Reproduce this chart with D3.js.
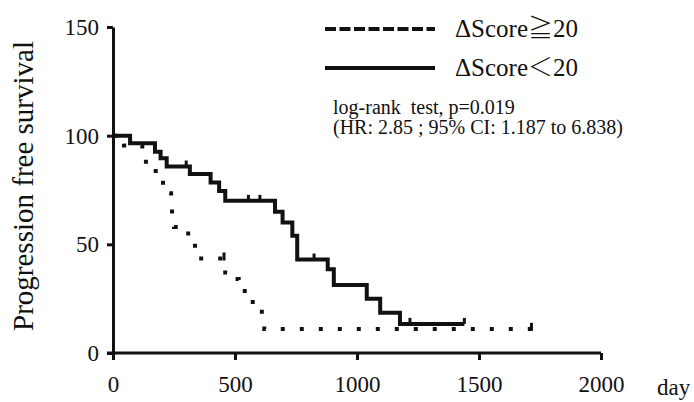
<!DOCTYPE html>
<html>
<head>
<meta charset="utf-8">
<script src="https://cdn.jsdelivr.net/npm/d3@7"></script>
<style>
  body { margin: 0; background: #fff; }
</style>
</head>
<body>
<div id="chart"></div>
<script>
// Kaplan-Meier steps (day, % progression free)
const highTimes = [0, 45, 120, 135, 175, 205, 215, 238, 242, 250, 290, 322, 336, 340, 460, 500, 515, 540, 550, 610, 620];
const highSurv  = [100, 95.5, 91, 87, 82, 76, 73.5, 70, 62, 58, 55, 51, 46, 43.5, 37, 34, 31, 27, 23.5, 16, 11.1];
const highEnd = 1715;
const highCensor = [455, 1715];

const lowTimes = [0, 70, 172, 195, 220, 315, 400, 435, 460, 664, 695, 735, 755, 880, 905, 1040, 1095, 1176];
const lowSurv  = [100, 96.5, 92.6, 89.6, 85.8, 82.4, 78.5, 74.5, 70, 65, 60, 54, 43, 38.5, 31.3, 25, 18.5, 13.4];
const lowEnd = 1440;
const lowCensor = [300, 555, 602, 824, 1217, 1440];

const xTicks = [0, 500, 1000, 1500, 2000];
const yTicks = [0, 50, 100, 150];

const legendNames = ["\u0394Score", "\u0394Score"];
const legendSigns = ["\u2267", "\uFF1C"];
const legendCut = "20";
const statLines = ["log-rank  test, p=0.019", "(HR: 2.85 ; 95% CI: 1.187 to 6.838)"];

const width = 694, height = 402;
const serif = "'Liberation Serif', 'Times New Roman', serif";
const ink = "#111";

const svg = d3.select("#chart")
    .append("svg")
    .attr("width", width)
    .attr("height", height);

const x = d3.scaleLinear().domain([0, 2000]).range([113, 601]);
const y = d3.scaleLinear().domain([0, 150]).range([353, 27]);

// axes
const xAxis = svg.append("g")
    .attr("transform", `translate(0,${y(0)})`)
    .call(d3.axisBottom(x).tickValues(xTicks).tickFormat(d3.format("d"))
        .tickSize(7).tickPadding(16).tickSizeOuter(0));
const yAxis = svg.append("g")
    .attr("transform", `translate(${x(0)},0)`)
    .call(d3.axisLeft(y).tickValues(yTicks).tickFormat(d3.format("d"))
        .tickSize(6).tickPadding(8).tickSizeOuter(0));

[xAxis, yAxis].forEach(a => {
    a.select(".domain").attr("stroke", ink).attr("stroke-width", 3);
    a.selectAll(".tick line").attr("stroke", ink).attr("stroke-width", 3);
    a.selectAll(".tick text")
        .style("font-family", serif)
        .style("font-size", "23px")
        .attr("fill", ink);
});
xAxis.select(".domain").attr("d", `M${x(0) - 6},0H${x(2000)}`);

svg.append("text")
    .attr("x", 657)
    .attr("y", 395)
    .style("font-family", serif)
    .style("font-size", "23px")
    .attr("fill", ink)
    .text("day");

svg.append("text")
    .attr("transform", "translate(33,186) rotate(-90)")
    .attr("text-anchor", "middle")
    .style("font-family", serif)
    .style("font-size", "29px")
    .attr("fill", ink)
    .text("Progression free survival");

// curves
const stepLine = d3.line()
    .x(d => x(d[0]))
    .y(d => y(d[1]))
    .curve(d3.curveStepAfter);

function kmPoints(times, surv, end) {
    const pts = times.map((t, i) => [t, surv[i]]);
    pts.push([end, surv[surv.length - 1]]);
    return pts;
}

function survAt(times, surv, t) {
    let v = surv[0];
    times.forEach((tt, i) => { if (tt <= t) v = surv[i]; });
    return v;
}

svg.append("path")
    .datum(kmPoints(lowTimes, lowSurv, lowEnd))
    .attr("fill", "none")
    .attr("stroke", ink)
    .attr("stroke-width", 4)
    .attr("d", stepLine);

svg.append("path")
    .datum(kmPoints(highTimes, highSurv, highEnd))
    .attr("fill", "none")
    .attr("stroke", ink)
    .attr("stroke-width", 4)
    .attr("stroke-dasharray", "4,15")
    .attr("d", stepLine);

// censor ticks
svg.selectAll(".censor-low")
    .data(lowCensor)
    .enter()
    .append("line")
    .attr("class", "censor-low")
    .attr("x1", d => x(d)).attr("x2", d => x(d))
    .attr("y1", d => y(survAt(lowTimes, lowSurv, d)))
    .attr("y2", d => y(survAt(lowTimes, lowSurv, d)) - 6)
    .attr("stroke", ink)
    .attr("stroke-width", 3);

svg.selectAll(".censor-high")
    .data(highCensor)
    .enter()
    .append("line")
    .attr("class", "censor-high")
    .attr("x1", d => x(d)).attr("x2", d => x(d))
    .attr("y1", d => y(survAt(highTimes, highSurv, d)) + 2)
    .attr("y2", d => y(survAt(highTimes, highSurv, d)) - 6)
    .attr("stroke", ink)
    .attr("stroke-width", 3);

// legend
const legend = svg.append("g");
legend.append("line")
    .attr("x1", 325).attr("x2", 435).attr("y1", 29).attr("y2", 29)
    .attr("stroke", ink).attr("stroke-width", 4)
    .attr("stroke-dasharray", "11,3.5");
legend.append("line")
    .attr("x1", 325).attr("x2", 435).attr("y1", 68).attr("y2", 68)
    .attr("stroke", ink).attr("stroke-width", 4);

const legendText = legend.selectAll(".legend-text")
    .data(legendNames)
    .enter()
    .append("text")
    .attr("class", "legend-text")
    .attr("x", 455)
    .attr("y", (d, i) => 37 + i * 39)
    .attr("fill", ink)
    .style("font-size", "25px");
legendText.append("tspan")
    .style("font-family", serif)
    .text(d => d);
legendText.append("tspan")
    .style("font-family", "'Noto Sans CJK JP', sans-serif")
    .style("font-weight", 300)
    .text((d, i) => legendSigns[i]);
legendText.append("tspan")
    .style("font-family", serif)
    .text(legendCut);

svg.selectAll(".stat-text")
    .data(statLines)
    .enter()
    .append("text")
    .attr("class", "stat-text")
    .attr("x", 333)
    .attr("y", (d, i) => 114 + i * 20)
    .attr("fill", ink)
    .style("font-family", serif)
    .style("font-size", "20px")
    .style("white-space", "pre")
    .text(d => d);
</script>
</body>
</html>
